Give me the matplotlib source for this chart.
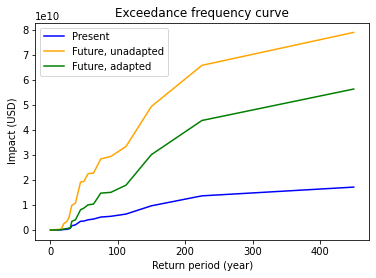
import numpy as np
import matplotlib
matplotlib.use("Agg")
import matplotlib.pyplot as plt

# return periods (years) and impacts (in 1e10 USD)
return_period = [0.5, 15, 17.3, 20, 25, 28.1, 30, 32.1, 37.5, 45, 50,
                 56.25, 64.3, 75, 90, 112.5, 150, 225, 450]
present = [0, 0.005, 0.01, 0.02, 0.03, 0.05, 0.08, 0.17, 0.21, 0.35, 0.36,
           0.41, 0.44, 0.52, 0.55, 0.64, 0.97, 1.37, 1.72]
future_unadapted = [0, 0.03, 0.08, 0.25, 0.35, 0.52, 0.75, 0.99, 1.08, 1.92, 1.95,
                    2.26, 2.28, 2.85, 2.95, 3.35, 4.95, 6.6, 7.92]
future_adapted = [0, 0.01, 0.02, 0.04, 0.06, 0.08, 0.1, 0.35, 0.41, 0.81, 0.88,
                  1.01, 1.04, 1.48, 1.51, 1.80, 3.02, 4.39, 5.65]

x = np.array(return_period)
fig = plt.figure(figsize=(376 / 72, 278 / 72), dpi=72)
ax = fig.add_axes([0.094, 0.137, 0.887, 0.782])

ax.plot(x, np.array(present) * 1e10, color="blue", label="Present")
ax.plot(x, np.array(future_unadapted) * 1e10, color="orange", label="Future, unadapted")
ax.plot(x, np.array(future_adapted) * 1e10, color="green", label="Future, adapted")

ax.set_title("Exceedance frequency curve")
ax.set_xlabel("Return period (year)")
ax.set_ylabel("Impact (USD)")
ax.legend(loc="upper left")

fig.savefig("out.png", dpi=72)
